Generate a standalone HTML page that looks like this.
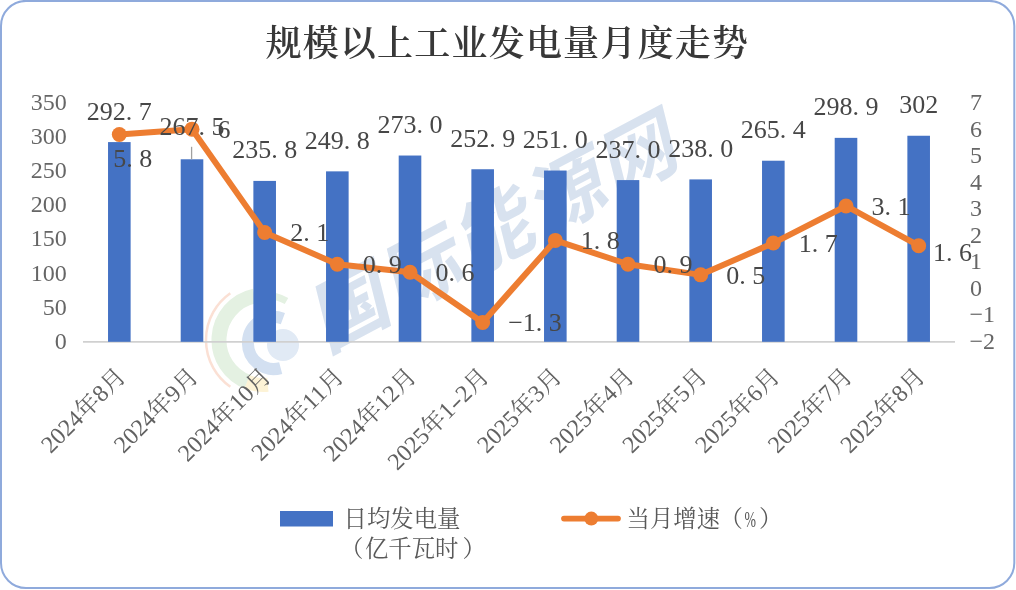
<!DOCTYPE html>
<html><head><meta charset="utf-8"><title>规模以上工业发电量月度走势</title>
<style>
html,body{margin:0;padding:0;background:#fff;}
body{width:1016px;height:590px;overflow:hidden;position:relative;}
svg{position:absolute;left:0;top:0;display:block;}
.d{font-family:"Liberation Serif","Noto Serif CJK SC",serif;font-size:26px;fill:#474747;}
.a{font-family:"Liberation Serif","Noto Serif CJK SC",serif;font-size:24px;fill:#666666;}
.x{font-family:"Liberation Serif","Noto Serif CJK SC",serif;font-size:24px;fill:#626262;}
.t{font-family:"Liberation Serif","Noto Serif CJK SC",serif;font-size:36px;fill:#383838;font-weight:600;letter-spacing:1.2px;}
.lg{font-family:"Liberation Serif","Noto Serif CJK SC",serif;font-size:23.4px;fill:#595959;font-weight:400;}
</style></head>
<body>
<svg width="1016" height="590" viewBox="0 0 1016 590">
<rect x="1" y="0.9" width="1013.3" height="587.1" rx="25" ry="25" fill="#fff" stroke="#8faadc" stroke-width="2"/>
<g>
<path d="M230.3 386.7A57 57 0 0 1 230.3 293.3" fill="none" stroke="#fbe0d4" stroke-width="2.5"/>
<path d="M248.6 382.3A45 45 0 0 1 254.6 296.0" fill="none" stroke="#e4f1e2" stroke-width="15"/>
<path d="M254.6 296.0A45 45 0 0 1 286.5 301.0" fill="none" stroke="#e4f1e2" stroke-width="7"/>
<path d="M267.9 384.8A45 45 0 0 1 247.1 381.7" fill="none" stroke="#fdf3d6" stroke-width="14"/>
<path d="M280.7 368.1A26 26 0 1 1 282.9 318.6" fill="none" stroke="#d3e0f1" stroke-width="12"/>
<circle cx="283" cy="345" r="16" fill="#e1eaf5"/>
</g>
<text x="0" y="0" transform="translate(326 352.5) rotate(-28) skewX(-14)" style="font-family:'Noto Sans CJK SC',sans-serif;font-weight:700;font-size:78px;fill:#d8e2ef;letter-spacing:3.5px">国际能源网</text>
<text class="t" x="265.5" y="56.3">规模以上工业发电量月度走势</text>
<line x1="83.0" y1="341.9" x2="955.0" y2="341.9" stroke="#d0d0d0" stroke-width="1.6"/>
<rect x="108.03" y="142.09" width="22.6" height="199.71" fill="#4472c4"/>
<rect x="180.70" y="159.28" width="22.6" height="182.52" fill="#4472c4"/>
<rect x="253.37" y="180.91" width="22.6" height="160.89" fill="#4472c4"/>
<rect x="326.03" y="171.36" width="22.6" height="170.44" fill="#4472c4"/>
<rect x="398.70" y="155.53" width="22.6" height="186.27" fill="#4472c4"/>
<rect x="471.37" y="169.25" width="22.6" height="172.55" fill="#4472c4"/>
<rect x="544.03" y="170.54" width="22.6" height="171.26" fill="#4472c4"/>
<rect x="616.70" y="180.09" width="22.6" height="161.71" fill="#4472c4"/>
<rect x="689.37" y="179.41" width="22.6" height="162.39" fill="#4472c4"/>
<rect x="762.03" y="160.72" width="22.6" height="181.08" fill="#4472c4"/>
<rect x="834.70" y="137.86" width="22.6" height="203.94" fill="#4472c4"/>
<rect x="907.37" y="135.75" width="22.6" height="206.05" fill="#4472c4"/>
<line x1="191.6" y1="146.8" x2="191.6" y2="159.28" stroke="#a0a0a0" stroke-width="1.3"/>
<polyline points="119.33,134.45 192.00,129.15 264.67,232.46 337.33,264.25 410.00,272.20 482.67,322.53 555.33,240.41 628.00,264.25 700.67,274.85 773.33,243.06 846.00,205.97 918.67,245.71" fill="none" stroke="#ed7d31" stroke-width="6" stroke-linejoin="round" stroke-linecap="round"/>
<circle cx="119.33" cy="134.45" r="7.5" fill="#ed7d31"/>
<circle cx="192.00" cy="129.15" r="7.5" fill="#ed7d31"/>
<circle cx="264.67" cy="232.46" r="7.5" fill="#ed7d31"/>
<circle cx="337.33" cy="264.25" r="7.5" fill="#ed7d31"/>
<circle cx="410.00" cy="272.20" r="7.5" fill="#ed7d31"/>
<circle cx="482.67" cy="322.53" r="7.5" fill="#ed7d31"/>
<circle cx="555.33" cy="240.41" r="7.5" fill="#ed7d31"/>
<circle cx="628.00" cy="264.25" r="7.5" fill="#ed7d31"/>
<circle cx="700.67" cy="274.85" r="7.5" fill="#ed7d31"/>
<circle cx="773.33" cy="243.06" r="7.5" fill="#ed7d31"/>
<circle cx="846.00" cy="205.97" r="7.5" fill="#ed7d31"/>
<circle cx="918.67" cy="245.71" r="7.5" fill="#ed7d31"/>
<text class="d" x="119.33" y="119.59" text-anchor="middle">292.<tspan dx="6.50">7</tspan></text>
<text class="d" x="192.00" y="134.90" text-anchor="middle">267.<tspan dx="6.50">5</tspan></text>
<text class="d" x="264.67" y="158.41" text-anchor="middle">235.<tspan dx="6.50">8</tspan></text>
<text class="d" x="337.33" y="148.86" text-anchor="middle">249.<tspan dx="6.50">8</tspan></text>
<text class="d" x="410.00" y="133.03" text-anchor="middle">273.<tspan dx="6.50">0</tspan></text>
<text class="d" x="482.67" y="146.75" text-anchor="middle">252.<tspan dx="6.50">9</tspan></text>
<text class="d" x="555.33" y="148.04" text-anchor="middle">251.<tspan dx="6.50">0</tspan></text>
<text class="d" x="628.00" y="157.59" text-anchor="middle">237.<tspan dx="6.50">0</tspan></text>
<text class="d" x="700.67" y="156.91" text-anchor="middle">238.<tspan dx="6.50">0</tspan></text>
<text class="d" x="773.33" y="138.22" text-anchor="middle">265.<tspan dx="6.50">4</tspan></text>
<text class="d" x="846.00" y="115.36" text-anchor="middle">298.<tspan dx="6.50">9</tspan></text>
<text class="d" x="918.67" y="113.25" text-anchor="middle">302</text>
<text class="d" x="113.30" y="166.80">5.<tspan dx="6.50">8</tspan></text>
<text class="d" x="217.50" y="137.94">6</text>
<text class="d" x="290.17" y="241.25">2.<tspan dx="6.50">1</tspan></text>
<text class="d" x="362.83" y="273.04">0.<tspan dx="6.50">9</tspan></text>
<text class="d" x="435.50" y="280.98">0.<tspan dx="6.50">6</tspan></text>
<text class="d" x="508.17" y="331.31">−1.<tspan dx="6.50">3</tspan></text>
<text class="d" x="580.83" y="249.20">1.<tspan dx="6.50">8</tspan></text>
<text class="d" x="653.50" y="273.04">0.<tspan dx="6.50">9</tspan></text>
<text class="d" x="726.17" y="283.63">0.<tspan dx="6.50">5</tspan></text>
<text class="d" x="798.83" y="251.84">1.<tspan dx="6.50">7</tspan></text>
<text class="d" x="871.50" y="214.76">3.<tspan dx="6.50">1</tspan></text>
<text class="d" x="933.00" y="260.80">1.<tspan dx="6.50">6</tspan></text>
<text class="a" x="66.8" y="348.81" text-anchor="end">0</text>
<text class="a" x="66.8" y="314.70" text-anchor="end">50</text>
<text class="a" x="66.8" y="280.58" text-anchor="end">100</text>
<text class="a" x="66.8" y="246.47" text-anchor="end">150</text>
<text class="a" x="66.8" y="212.35" text-anchor="end">200</text>
<text class="a" x="66.8" y="178.24" text-anchor="end">250</text>
<text class="a" x="66.8" y="144.12" text-anchor="end">300</text>
<text class="a" x="66.8" y="110.01" text-anchor="end">350</text>
<text class="a" x="969.5" y="348.78">−2</text>
<text class="a" x="969.5" y="322.29">−1</text>
<text class="a" x="970.0" y="295.80">0</text>
<text class="a" x="970.0" y="269.31">1</text>
<text class="a" x="970.0" y="242.82">2</text>
<text class="a" x="970.0" y="216.33">3</text>
<text class="a" x="970.0" y="189.84">4</text>
<text class="a" x="970.0" y="163.35">5</text>
<text class="a" x="970.0" y="136.86">6</text>
<text class="a" x="970.0" y="110.37">7</text>
<text class="x" x="127.13" y="377.80" text-anchor="end" transform="rotate(-45 127.13 377.80)">2024年8月</text>
<text class="x" x="199.80" y="377.80" text-anchor="end" transform="rotate(-45 199.80 377.80)">2024年9月</text>
<text class="x" x="272.47" y="377.80" text-anchor="end" transform="rotate(-45 272.47 377.80)">2024年10月</text>
<text class="x" x="345.13" y="377.80" text-anchor="end" transform="rotate(-45 345.13 377.80)">2024年11月</text>
<text class="x" x="417.80" y="377.80" text-anchor="end" transform="rotate(-45 417.80 377.80)">2024年12月</text>
<text class="x" x="490.47" y="377.80" text-anchor="end" transform="rotate(-45 490.47 377.80)">2025年1<tspan textLength="12" lengthAdjust="spacingAndGlyphs">-</tspan>2月</text>
<text class="x" x="563.13" y="377.80" text-anchor="end" transform="rotate(-45 563.13 377.80)">2025年3月</text>
<text class="x" x="635.80" y="377.80" text-anchor="end" transform="rotate(-45 635.80 377.80)">2025年4月</text>
<text class="x" x="708.47" y="377.80" text-anchor="end" transform="rotate(-45 708.47 377.80)">2025年5月</text>
<text class="x" x="781.13" y="377.80" text-anchor="end" transform="rotate(-45 781.13 377.80)">2025年6月</text>
<text class="x" x="853.80" y="377.80" text-anchor="end" transform="rotate(-45 853.80 377.80)">2025年7月</text>
<text class="x" x="926.47" y="377.80" text-anchor="end" transform="rotate(-45 926.47 377.80)">2025年8月</text>
<rect x="280" y="511" width="53" height="15.5" fill="#4472c4"/>
<text class="lg" x="343.5" y="527">日均发电量</text>
<text class="lg" x="343.5" y="556.5"><tspan dx="-3.5">（</tspan><tspan dx="1.5">亿千瓦时</tspan><tspan dx="4">）</tspan></text>
<line x1="564" y1="518.6" x2="618" y2="518.6" stroke="#ed7d31" stroke-width="5.7" stroke-linecap="round"/>
<circle cx="591.3" cy="518.6" r="7" fill="#ed7d31"/>
<text class="lg" x="626.5" y="527">当月增速<tspan dx="-0.5">（</tspan><tspan dx="1.5" textLength="11.5" lengthAdjust="spacingAndGlyphs">%</tspan><tspan dx="3">）</tspan></text>
</svg>
</body></html>
